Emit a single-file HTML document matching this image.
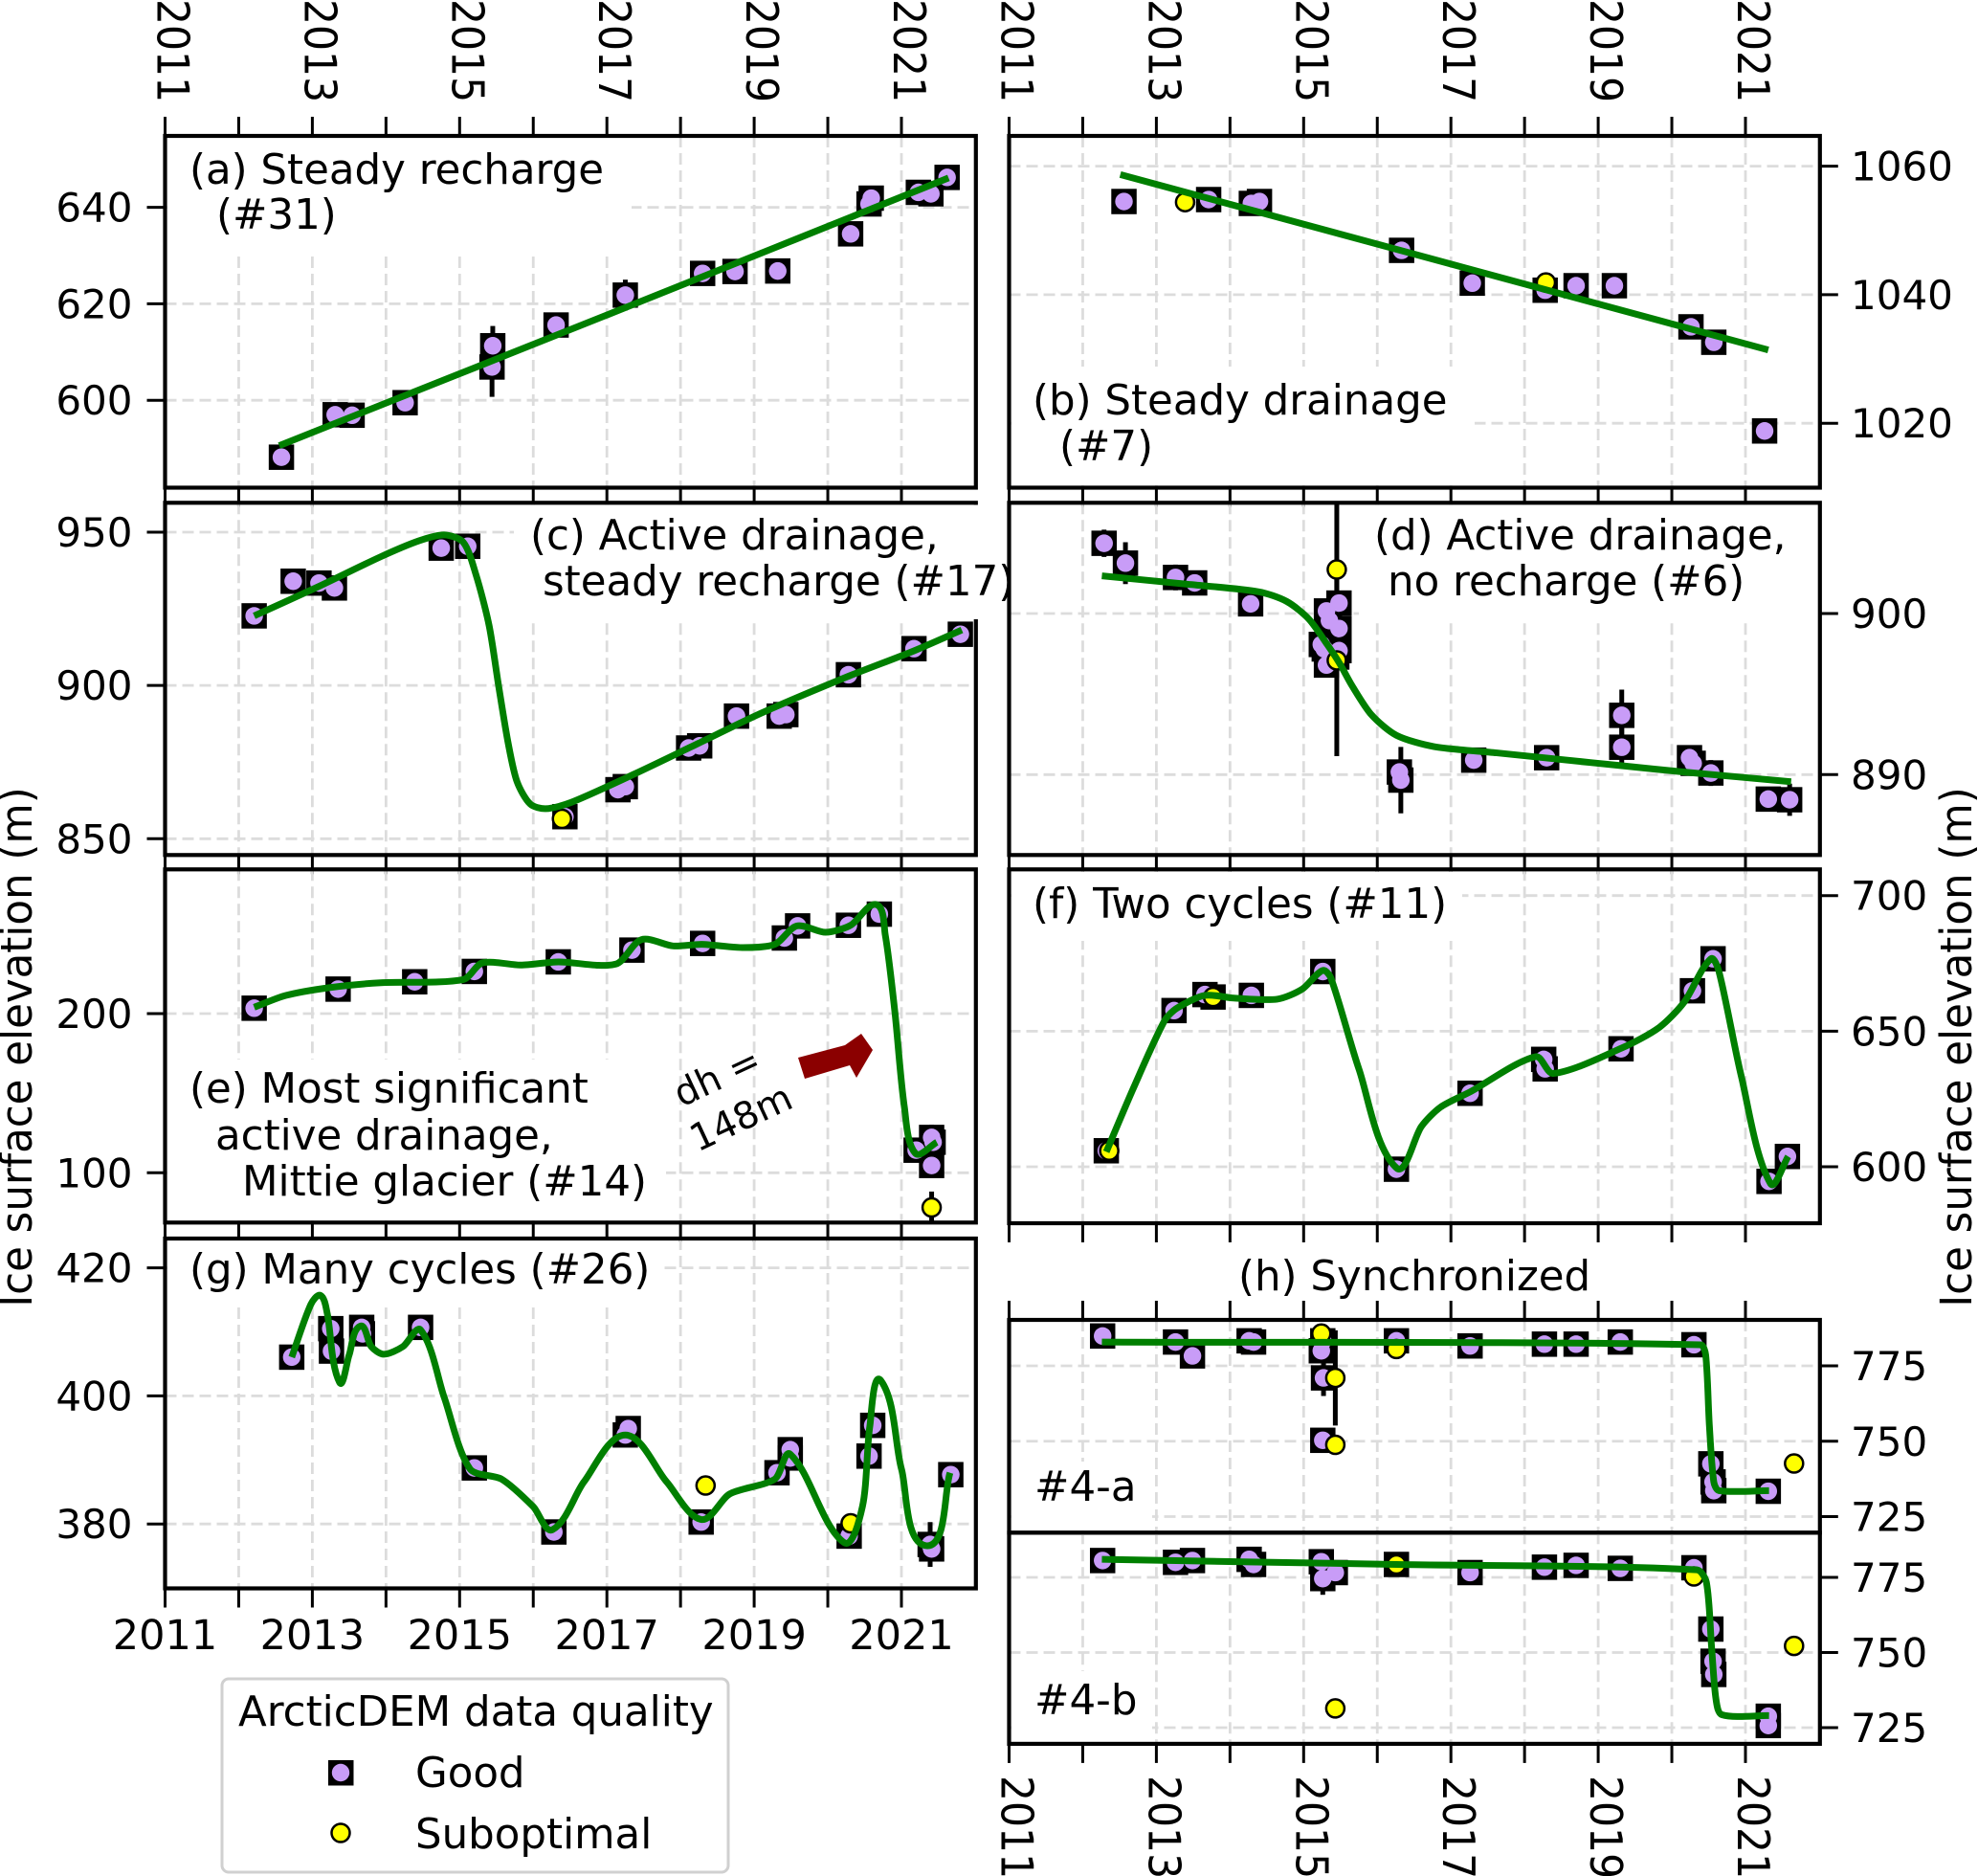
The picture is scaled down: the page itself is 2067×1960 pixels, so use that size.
<!DOCTYPE html>
<html lang="en">
<head>
<meta charset="utf-8">
<title>Ice surface elevation panels</title>
<style>
html,body{margin:0;padding:0;background:#fff;}
svg{display:block;font-family:"DejaVu Sans","Liberation Sans",sans-serif;}
text{fill:#000;font-size:43.5px;}
</style>
</head>
<body>
<svg id="figure" xmlns="http://www.w3.org/2000/svg" width="2067" height="1960" viewBox="0 0 2067 1960">
<rect x="0" y="0" width="2067" height="1960" fill="#fff"/>
<g id="marks"></g>
<g id="labels">
<text x="198" y="192">(a) Steady recharge</text>
<text x="226" y="239">(#31)</text>
<text x="1079" y="433">(b) Steady drainage</text>
<text x="1107" y="481">(#7)</text>
<text x="554" y="574">(c) Active drainage,</text>
<text x="567" y="622">steady recharge (#17)</text>
<text x="1436" y="574">(d) Active drainage,</text>
<text x="1450" y="622">no recharge (#6)</text>
<text x="198" y="1152">(e) Most significant</text>
<text x="225" y="1201">active drainage,</text>
<text x="253" y="1249">Mittie glacier (#14)</text>
<text x="1079" y="959">(f) Two cycles (#11)</text>
<text x="198" y="1341">(g) Many cycles (#26)</text>
<text x="1294" y="1348">(h) Synchronized</text>
<text x="1081" y="1568">#4-a</text>
<text x="1081" y="1791">#4-b</text>
<text text-anchor="middle" transform="translate(755,1137) rotate(-25)" style="font-size:39px">dh =</text>
<text text-anchor="middle" transform="translate(780,1180) rotate(-25)" style="font-size:39px">148m</text>
<polygon points="834,1105 841,1127 888,1113 895,1126 912,1097 900,1080 883,1092" fill="#8b0000"/>
<text text-anchor="middle" transform="translate(33,1094) rotate(-90) scale(1,1.05)">Ice surface elevation (m)</text>
<text text-anchor="middle" transform="translate(2060,1094) rotate(-90) scale(1,1.05)">Ice surface elevation (m)</text>
<g>
<rect x="232" y="1754" width="529" height="202" rx="7" fill="#fff" stroke="#d0d0d0" stroke-width="3"/>
<text x="249" y="1803">ArcticDEM data quality</text>
<rect x="343" y="1839" width="26.5" height="26.5" fill="#000"/>
<circle cx="356" cy="1852" r="9.2" fill="#c89cf7"/>
<text x="434" y="1867">Good</text>
<circle cx="356" cy="1915" r="9.5" fill="#ffff00" stroke="#000" stroke-width="2.5"/>
<text x="434" y="1931">Suboptimal</text>
</g>
</g>
</svg>
<script>
// Shared axis tick labels
const yearTicks = [2011,2012,2013,2014,2015,2016,2017,2018,2019,2020,2021];
const yearLabels = [2011,2013,2015,2017,2019,2021];

// Panel (a) Steady recharge
const aTicks = [600,620,640];
const aDates = [2012.58,2013.31,2013.54,2014.26,2015.44,2015.45,2016.31,2017.25,2018.30,2018.74,2019.32,2020.31,2020.56,2020.59,2021.23,2021.40,2021.62];
const aElev  = [588.2,597.0,596.9,599.5,606.9,611.3,615.6,621.8,626.3,626.7,626.8,634.5,640.7,641.9,643.1,642.8,646.2];
const aErr   = [0,0,0,0,6.2,4.1,0,3.2,0,0,0,0,0,0,0,0,0];
const aSubDates = [];
const aSubElev  = [];
const aSubErr   = [];
const aFitDates = [2012.55,2017.3,2021.64];
const aFitElev  = [590.6,619.5,646.1];

// Panel (b) Steady drainage
const bTicks = [1020,1040,1060];
const bDates = [2012.56,2013.71,2014.29,2014.40,2016.33,2017.29,2018.28,2018.70,2019.22,2020.26,2020.57,2021.26];
const bElev  = [1054.5,1054.8,1054.2,1054.5,1046.9,1041.8,1040.7,1041.4,1041.4,1035,1032.6,1018.8];
const bErr   = [0,0,0,0,0,0,0,0,0,0,0,0];
const bSubDates = [2013.39,2018.29];
const bSubElev  = [1054.4,1041.9];
const bSubErr   = [0,0];
const bFitDates = [2012.51,2021.31];
const bFitElev  = [1058.7,1031.4];

// Panel (c) Active drainage, steady recharge
const cTicks = [850,900,950];
const cDates = [2012.21,2012.74,2013.09,2013.30,2014.75,2015.11,2016.43,2017.15,2017.25,2018.11,2018.26,2018.76,2019.34,2019.43,2020.28,2021.17,2021.80];
const cElev  = [922.7,934,933.4,931.8,944.8,945.4,857.2,866,867,879.6,880.3,890,890,890.5,903.5,912,916.7];
const cErr   = [0,0,0,0,0,0,0,0,0,0,0,0,0,0,0,0,0];
const cSubDates = [2016.39];
const cSubElev  = [856.5];
const cSubErr   = [0];
const cFitDates = [2012.21,2013.07,2013.93,2014.45,2014.79,2015.05,2015.22,2015.40,2015.53,2015.66,2015.78,2015.96,2016.17,2016.52,2017.38,2018.24,2019.10,2020.28,2021.17,2021.82];
const cFitElev  = [922.7,932.1,942.0,947.2,949.1,946.7,936.3,919.6,899.8,881.1,868.6,861.3,859.8,861.9,871.2,881.1,891,903,911.3,918.1];

// Panel (d) Active drainage, no recharge
const dTicks = [890,900];
const dDates = [2012.29,2012.58,2013.26,2013.52,2014.28,2015.48,2015.31,2015.35,2015.48,2015.24,2015.28,2015.48,2015.45,2015.31,2016.30,2016.32,2017.31,2018.30,2019.32,2019.32,2020.24,2020.29,2020.53,2021.31,2021.60];
const dElev  = [904.36,903.13,902.24,901.9,900.6,900.65,900.16,899.56,899.07,898.08,897.8,897.7,897.3,896.8,890.16,889.66,890.9,891.05,893.68,891.7,891.05,890.7,890.1,888.48,888.44];
const dErr   = [0.85,1.3,0.8,0,0,0,0,0,0,0,0,0,0,0,0,2.06,0,0,1.6,1.3,0,0,0.8,0,1];
const dSubDates = [2015.45,2015.45];
const dSubElev  = [902.73,897.09];
const dSubErr   = [4.5,5.94];
const dFitDates = [2012.26,2013.37,2014.39,2014.77,2015.07,2015.32,2015.49,2015.66,2015.92,2016.26,2016.77,2017.62,2018.47,2019.32,2020.17,2021.62];
const dFitElev  = [902.34,901.84,901.35,900.75,899.66,898.08,896.89,895.5,893.72,892.44,891.74,891.35,890.95,890.55,890.16,889.56];

// Panel (e) Most significant active drainage
const eTicks = [100,200];
const eDates = [2012.21,2013.35,2014.39,2015.20,2016.34,2017.34,2018.30,2019.41,2019.59,2020.28,2020.70,2021.20,2021.41,2021.43,2021.41];
const eElev  = [203.4,215.4,220,226.5,232.5,239.9,244.1,247.5,255.1,255.5,262.5,114.2,122.2,119.2,104.6];
const eErr   = [0,0,0,0,0,0,0,0,0,0,0,0,8,0,0];
const eSubDates = [2021.41];
const eSubElev  = [78.2];
const eSubErr   = [10];
const eFitDates = [2012.21,2012.64,2013.24,2013.93,2015.05,2015.31,2015.83,2016.34,2017.12,2017.47,2017.9,2018.29,2018.84,2019.28,2019.58,2019.97,2020.31,2020.66,2020.78,2020.91,2021.04,2021.19,2021.48];
const eFitElev  = [204,211.4,216.4,219.4,221.4,231.9,230.5,232.5,231.1,246.5,242.5,243.5,241.5,243.5,255.1,251.1,255.5,268.5,249.5,201.4,141.3,112.2,119.2];

// Panel (f) Two cycles
const fTicks = [600,650,700];
const fDates = [2012.32,2013.24,2013.66,2013.77,2014.29,2015.26,2016.26,2017.26,2018.26,2018.28,2019.31,2020.28,2020.56,2021.32,2021.57];
const fElev  = [605.9,657.6,663.5,662.6,663.2,672,599.1,627.1,639.6,636.1,643.5,664.9,676.7,594.6,603.8];
const fErr   = [0,0,0,0,0,0,0,0,0,0,0,0,0,0,0];
const fSubDates = [2012.36,2013.77];
const fSubElev  = [605.9,662.6];
const fSubErr   = [0,0];
const fFitDates = [2012.32,2012.69,2013.11,2013.28,2013.66,2014.05,2014.64,2014.98,2015.26,2015.37,2015.75,2016.26,2016.60,2016.86,2017.26,2018.15,2018.39,2019.32,2019.83,2020.17,2020.53,2020.64,2020.94,2021.34,2021.58];
const fFitElev  = [605.5,629.1,653.8,658.5,663.2,662.2,661.8,665.5,672.4,669.6,636.1,599.6,614.9,622,627.6,640.6,634.4,643.8,651.4,660.8,676.7,672,633.8,593.8,603.8];

// Panel (g) Many cycles
const gTicks = [380,400,420];
const gDates = [2012.72,2013.25,2013.26,2013.67,2013.68,2014.47,2015.20,2016.28,2017.25,2017.29,2018.28,2019.31,2019.49,2019.49,2020.29,2020.61,2020.56,2021.39,2021.41,2021.67];
const gElev  = [406.05,410.5,407.0,410.7,409.7,410.7,388.75,378.75,393.9,394.9,380.3,388,391.6,390.3,378.1,395.4,390.6,376.8,376.1,387.7];
const gErr   = [0,0,0,0,0,0,0,0,0,0,0,0,1.5,0,0,0,0,3.5,0,0];
const gSubDates = [2018.34,2020.31];
const gSubElev  = [386,380.1];
const gSubErr   = [0,0];
const gFitDates = [2012.72,2012.98,2013.11,2013.2,2013.37,2013.5,2013.65,2013.8,2013.97,2014.23,2014.47,2014.79,2015.14,2015.57,2016,2016.26,2016.69,2017.25,2017.81,2018.28,2018.67,2019.28,2019.49,2020.22,2020.47,2020.57,2020.72,2021,2021.34,2021.66];
const gFitElev  = [406.05,414.3,415.7,413,402.1,406.4,410.9,407.7,406.5,407.7,410.3,399.8,388.6,387,382.7,379.1,386.6,393.9,386.6,380.7,384.7,387,390.9,377.1,382.7,395.2,402.4,388.6,376.6,388];

// Panel (h) Synchronized, #4-a
const haTicks = [725,750,775];
const haDates = [2012.27,2013.26,2013.49,2014.26,2014.32,2015.26,2015.24,2015.27,2015.26,2016.26,2017.26,2018.27,2018.7,2019.3,2020.3,2020.53,2020.56,2020.57,2021.31];
const haElev  = [784.9,782.9,778.3,783.3,782.9,783.3,780,771,750.3,783.3,781.6,782.2,782.2,782.9,782,742.5,736.5,733.6,733.4];
const haErr   = [0,0,0,0,0,0,0,6,0,0,0,0,0,0,0,0,0,0,0];
const haSubDates = [2015.24,2015.43,2015.43,2016.26,2021.66];
const haSubElev  = [785.7,771,748.8,780.6,742.6];
const haSubErr   = [0,15.8,0,0,0];
const haFitDates = [2012.26,2020.39,2020.46,2020.51,2020.57,2020.64,2021.32];
const haFitElev  = [782.9,782,778.6,755.2,736.5,733.6,733.6];

// Panel (h) Synchronized, #4-b
const hbTicks = [725,750,775];
const hbDates = [2012.27,2013.26,2013.49,2014.26,2014.32,2015.24,2015.26,2015.43,2016.26,2017.26,2018.27,2018.7,2019.3,2020.3,2020.53,2020.56,2020.57,2021.31,2021.31];
const hbElev  = [780.6,780,780.6,781,779.3,780.2,774.6,776.6,779.3,776.6,778.4,779,778,778.2,757.8,747.1,742.7,728.8,725.7];
const hbErr   = [0,0,0,0,0,0,5.4,0,0,0,0,0,0,0,0,0,0,0,0];
const hbSubDates = [2015.43,2016.26,2020.3,2021.66];
const hbSubElev  = [731.4,779.3,775.3,752.2];
const hbSubErr   = [0,0,0,0];
const hbFitDates = [2012.26,2016.26,2020.34,2020.47,2020.54,2020.6,2020.68,2021.32];
const hbFitElev  = [781,779.3,777.5,773.3,751.8,734.4,729.3,729];

const NS = 'http://www.w3.org/2000/svg';
const marks = document.getElementById('marks');
const LEFT_X = 172.5, RIGHT_X = 1054.5, YEAR_PX = 76.95;
const GRID = '#dcdcdc', GREEN = '#007f00', PURPLE = '#c89cf7', YELLOW = '#ffff00';

const panels = [
  {id:'a', col:LEFT_X, top:142, bottom:509.5, side:'left', tickRefPx:[418.2,216.6], ticks:aTicks, dates:aDates, elev:aElev, err:aErr, subDates:aSubDates, subElev:aSubElev, subErr:aSubErr, fitDates:aFitDates, fitElev:aFitElev, topTicks:true, bottomTicks:true, topLabels:true, bottomLabels:false, masks:[[175,144,485,118]]},
  {id:'b', col:RIGHT_X, top:142, bottom:509.5, side:'right', tickRefPx:[442.2,173.6], ticks:bTicks, dates:bDates, elev:bElev, err:bErr, subDates:bSubDates, subElev:bSubElev, subErr:bSubErr, fitDates:bFitDates, fitElev:bFitElev, topTicks:true, bottomTicks:true, topLabels:true, bottomLabels:false, masks:[[1057,383,484,124]]},
  {id:'c', col:LEFT_X, top:525.3, bottom:893.3, side:'left', tickRefPx:[876.3,556], ticks:cTicks, dates:cDates, elev:cElev, err:cErr, subDates:cSubDates, subElev:cSubElev, subErr:cSubErr, fitDates:cFitDates, fitElev:cFitElev, topTicks:false, bottomTicks:true, topLabels:false, bottomLabels:false, masks:[[537,527.5,515,119.5]]},
  {id:'d', col:RIGHT_X, top:525.3, bottom:893.3, side:'right', tickRefPx:[809.3,641], ticks:dTicks, dates:dDates, elev:dElev, err:dErr, subDates:dSubDates, subElev:dSubElev, subErr:dSubErr, fitDates:dFitDates, fitElev:dFitElev, topTicks:false, bottomTicks:true, topLabels:false, bottomLabels:false, masks:[[1420,527.5,480,119.5]]},
  {id:'e', col:LEFT_X, top:908.3, bottom:1277.3, side:'left', tickRefPx:[1225.3,1059], ticks:eTicks, dates:eDates, elev:eElev, err:eErr, subDates:eSubDates, subElev:eSubElev, subErr:eSubErr, fitDates:eFitDates, fitElev:eFitElev, topTicks:false, bottomTicks:true, topLabels:false, bottomLabels:false, masks:[[175,1107,521,168]]},
  {id:'f', col:RIGHT_X, top:908.3, bottom:1278, side:'right', tickRefPx:[1219,935.7], ticks:fTicks, dates:fDates, elev:fElev, err:fErr, subDates:fSubDates, subElev:fSubElev, subErr:fSubErr, fitDates:fFitDates, fitElev:fFitElev, topTicks:false, bottomTicks:true, topLabels:false, bottomLabels:false, masks:[[1057,911,471,72]]},
  {id:'g', col:LEFT_X, top:1294, bottom:1659.5, side:'left', tickRefPx:[1592.2,1324.6], ticks:gTicks, dates:gDates, elev:gElev, err:gErr, subDates:gSubDates, subElev:gSubElev, subErr:gSubErr, fitDates:gFitDates, fitElev:gFitElev, topTicks:false, bottomTicks:true, topLabels:false, bottomLabels:true, masks:[[175,1296,518,69]]},
  {id:'h-a', col:RIGHT_X, top:1379, bottom:1601.3, side:'right', tickRefPx:[1584.5,1427], ticks:haTicks, dates:haDates, elev:haElev, err:haErr, subDates:haSubDates, subElev:haSubElev, subErr:haSubErr, fitDates:haFitDates, fitElev:haFitElev, topTicks:true, bottomTicks:false, topLabels:false, bottomLabels:false, masks:[[1057,1527,147,72]]},
  {id:'h-b', col:RIGHT_X, top:1601.3, bottom:1821.9, side:'right', tickRefPx:[1805,1648], ticks:hbTicks, dates:hbDates, elev:hbElev, err:hbErr, subDates:hbSubDates, subElev:hbSubElev, subErr:hbSubErr, fitDates:hbFitDates, fitElev:hbFitElev, topTicks:false, bottomTicks:true, topLabels:false, bottomLabels:false, rotatedBottom:true, masks:[[1057,1746,147,74]]}
];

function make(tag, attrs, parent) {
  const node = document.createElementNS(NS, tag);
  for (const key in attrs) node.setAttribute(key, attrs[key]);
  parent.appendChild(node);
  return node;
}

function xAxis(panel) {
  return function (year) { return panel.col + (year - 2011) * YEAR_PX; };
}

function yAxis(panel) {
  const v0 = panel.ticks[0];
  const v1 = panel.ticks[panel.ticks.length - 1];
  const p0 = panel.tickRefPx[0];
  const p1 = panel.tickRefPx[1];
  return function (value) { return p0 + (value - v0) * (p1 - p0) / (v1 - v0); };
}

function smoothPath(pts) {
  if (pts.length < 3) return 'M' + pts.map(function (p) { return p[0] + ' ' + p[1]; }).join('L');
  let d = 'M' + pts[0][0] + ' ' + pts[0][1];
  function dist(a, b) { return Math.hypot(a[0] - b[0], a[1] - b[1]) || 1; }
  function tangent(i) {
    const a = pts[Math.max(i - 1, 0)];
    const b = pts[Math.min(i + 1, pts.length - 1)];
    const len = dist(a, b);
    return [(b[0] - a[0]) / len, (b[1] - a[1]) / len];
  }
  for (let i = 0; i < pts.length - 1; i++) {
    const seg = dist(pts[i], pts[i + 1]) * 0.27;
    const t0 = tangent(i);
    const t1 = tangent(i + 1);
    d += 'C' + (pts[i][0] + t0[0] * seg) + ' ' + (pts[i][1] + t0[1] * seg) + ' ' +
         (pts[i + 1][0] - t1[0] * seg) + ' ' + (pts[i + 1][1] - t1[1] * seg) + ' ' +
         pts[i + 1][0] + ' ' + pts[i + 1][1];
  }
  return d;
}

function drawPanel(panel) {
  const x = xAxis(panel);
  const y = yAxis(panel);
  const left = panel.col;
  const right = panel.col + 847.3;
  const g = make('g', {}, marks);
  
  

  const defs = make('defs', {}, g);
  const clip = make('clipPath', {id: 'clip-' + panel.id}, defs);
  make('rect', {x: left, y: panel.top, width: right - left, height: panel.bottom - panel.top}, clip);

  yearTicks.forEach(function (yr) {
    const gridLine = make('line', {x1: x(yr), x2: x(yr), y1: panel.top, y2: panel.bottom, stroke: GRID, 'stroke-width': 2.8, 'stroke-dasharray': '12 6'}, g);
    
    
    if (panel.bottomTicks) {
      const tickDown = make('line', {x1: x(yr), x2: x(yr), y1: panel.bottom, y2: panel.bottom + 20, stroke: '#000', 'stroke-width': 3}, g);
      
      
    }
    if (panel.topTicks) {
      const tickUp = make('line', {x1: x(yr), x2: x(yr), y1: panel.top, y2: panel.top - 20, stroke: '#000', 'stroke-width': 3}, g);
      
      
    }
  });

  panel.ticks.forEach(function (value) {
    const gridH = make('line', {x1: left, x2: right, y1: y(value), y2: y(value), stroke: GRID, 'stroke-width': 2.8, 'stroke-dasharray': '12 6'}, g);
    
    
    const outer = panel.side === 'left' ? left - 19 : right + 19;
    const edge = panel.side === 'left' ? left : right;
    const tickMark = make('line', {x1: edge, x2: outer, y1: y(value), y2: y(value), stroke: '#000', 'stroke-width': 3}, g);
    
    
    const tickText = make('text', {x: panel.side === 'left' ? 138.5 : 1934, y: y(value) + 15, 'text-anchor': panel.side === 'left' ? 'end' : 'start', style: 'font-size:42px'}, g);
    tickText.textContent = value;
    
    
  });

  yearLabels.forEach(function (yr) {
    if (panel.topLabels) {
      const topLabel = make('text', {transform: 'translate(' + (x(yr) - 8) + ',-1) rotate(90) scale(1,1.09)', style: 'font-size:42.5px'}, g);
      topLabel.textContent = yr;
      
      
    }
    if (panel.bottomLabels) {
      const bottomLabel = make('text', {x: x(yr), y: 1723, 'text-anchor': 'middle', style: 'font-size:43px'}, g);
      bottomLabel.textContent = yr;
      
      
    }
    if (panel.rotatedBottom) {
      const rotatedLabel = make('text', {transform: 'translate(' + (x(yr) - 8) + ',1855) rotate(90) scale(1,1.09)', style: 'font-size:42.5px'}, g);
      rotatedLabel.textContent = yr;
      
      
    }
  });

  const plot = make('g', {'clip-path': 'url(#clip-' + panel.id + ')'}, g);
  
  

  panel.masks.forEach(function (m) {
    const gridMask = make('rect', {x: m[0], y: m[1], width: m[2], height: m[3], fill: '#fff'}, plot);
    
    
  });

  panel.dates.forEach(function (d, i) {
    if (!panel.err[i]) return;
    const bar = make('line', {x1: x(d), x2: x(d), y1: y(panel.elev[i] - panel.err[i]), y2: y(panel.elev[i] + panel.err[i]), stroke: '#000', 'stroke-width': 5}, plot);
    
    
  });
  panel.subDates.forEach(function (d, i) {
    if (!panel.subErr[i]) return;
    const bar = make('line', {x1: x(d), x2: x(d), y1: y(panel.subElev[i] - panel.subErr[i]), y2: y(panel.subElev[i] + panel.subErr[i]), stroke: '#000', 'stroke-width': 5}, plot);
    
    
  });
  panel.dates.forEach(function (d, i) {
    const square = make('rect', {x: x(d) - 13.25, y: y(panel.elev[i]) - 13.25, width: 26.5, height: 26.5, fill: '#000'}, plot);
    
    
  });
  panel.dates.forEach(function (d, i) {
    const dot = make('circle', {cx: x(d), cy: y(panel.elev[i]), r: 9.2, fill: PURPLE}, plot);
    
    
  });
  panel.subDates.forEach(function (d, i) {
    const dot = make('circle', {cx: x(d), cy: y(panel.subElev[i]), r: 9.5, fill: YELLOW, stroke: '#000', 'stroke-width': 2.5}, plot);
    
    
  });

  const pts = panel.fitDates.map(function (d, i) { return [x(d), y(panel.fitElev[i])]; });
  const fit = make('path', {d: smoothPath(pts), fill: 'none', stroke: GREEN, 'stroke-width': 7, 'stroke-linejoin': 'round'}, plot);
  
  

  const spine = make('rect', {x: left, y: panel.top, width: right - left, height: panel.bottom - panel.top, fill: 'none', stroke: '#000', 'stroke-width': 4.2}, g);
  
  
  if (panel.id === 'c') {
    const gap = make('rect', {x: right - 4, y: 527.5, width: 8, height: 119.5, fill: '#fff'}, g);
    
    
  }
}

panels.forEach(drawPanel);
</script>
</body>
</html>
